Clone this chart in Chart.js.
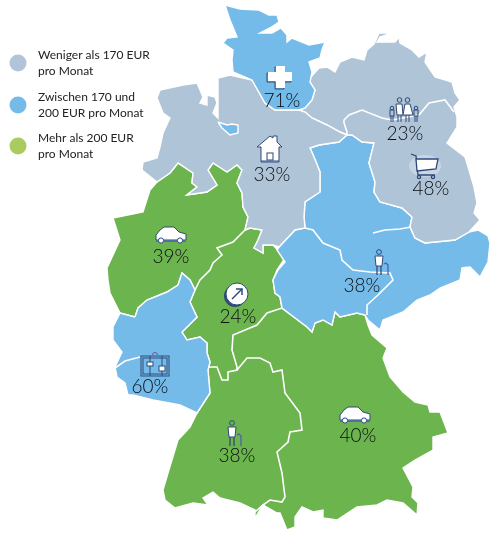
<!DOCTYPE html>
<html lang="de">
<head>
<meta charset="utf-8">
<title>Karte</title>
<style>
  html, body { margin: 0; padding: 0; background: #fff; }
  canvas { display: block; }
</style>
<script src="https://cdn.jsdelivr.net/npm/chart.js@4"></script>
</head>
<body>
<canvas id="karte" width="504" height="541"></canvas>
<script>
// Umrisse der Regionen
const nordBlau = [[225,5],[240,9],[259,10],[269,15],[277,15],[279,22],[270,28],[260,33],[272,33],[281,28],[287,35],[287,42],[292,38],[309,45],[325,42],[322,50],[320,58],[309,62],[312,72],[310,82],[315,90],[312,100],[305,108],[299,110],[285,110],[275,110],[265,103],[252,80],[233,72],[232,60],[233,50],[223,43],[227,38],[237,37],[230,20],[225,5]];
const westGrau = [[157,98],[160,90],[183,85],[197,83],[203,97],[200,103],[207,105],[207,95],[215,97],[217,103],[213,113],[218,118],[218,100],[218,78],[230,75],[252,80],[265,103],[275,110],[285,110],[299,110],[305,112],[312,118],[327,125],[340,132],[347,135],[339,142],[319,145],[310,148],[314,157],[320,172],[320,192],[305,202],[304,217],[305,228],[295,230],[279,247],[273,245],[263,245],[263,253],[254,248],[258,240],[262,230],[250,228],[245,230],[248,217],[243,207],[242,193],[237,183],[242,170],[237,165],[227,172],[213,163],[208,170],[217,185],[207,192],[187,195],[197,187],[192,183],[193,173],[178,163],[170,173],[157,182],[142,170],[143,162],[157,158],[160,147],[163,133],[170,118],[163,113],[157,98]];
const bremenBlau = [[218,122],[227,125],[232,124],[238,125],[238,133],[230,135],[222,128],[218,122]];
const ostGrau = [[310,78],[319,68],[327,67],[335,72],[340,62],[352,57],[364,60],[367,50],[374,44],[379,33],[392,33],[380,37],[377,42],[395,42],[399,37],[400,43],[412,50],[419,57],[427,52],[425,62],[435,77],[452,82],[455,93],[460,100],[454,107],[457,117],[457,127],[447,143],[465,157],[469,170],[474,187],[477,203],[474,213],[480,220],[469,232],[455,240],[425,243],[415,238],[410,227],[412,217],[402,208],[380,202],[374,192],[375,182],[369,163],[374,143],[362,142],[352,135],[347,135],[340,132],[327,125],[312,118],[305,112],[299,110],[305,108],[312,100],[315,90],[310,82],[310,78]];
const mitteBlau = [[347,135],[352,135],[362,142],[374,143],[369,163],[375,182],[374,192],[380,202],[402,208],[412,217],[410,227],[415,238],[425,243],[455,240],[469,232],[478,230],[488,236],[490,243],[488,262],[480,277],[470,267],[462,268],[460,280],[440,288],[430,295],[417,300],[403,312],[383,320],[380,330],[368,320],[365,315],[357,313],[340,317],[335,312],[332,325],[323,320],[315,323],[312,332],[307,327],[282,308],[280,297],[275,293],[273,280],[278,270],[285,262],[277,250],[279,247],[295,230],[305,228],[304,217],[305,202],[320,192],[320,172],[314,157],[310,148],[319,145],[339,142],[347,135]];
const suedGruen = [[157,182],[170,173],[178,163],[193,173],[192,183],[197,187],[187,195],[207,192],[217,185],[208,170],[213,163],[227,172],[237,165],[242,170],[237,183],[242,193],[243,207],[248,217],[245,230],[250,228],[262,230],[258,240],[254,248],[263,253],[263,245],[273,245],[285,258],[277,270],[273,280],[275,293],[280,297],[282,308],[307,327],[312,332],[315,323],[323,320],[332,325],[335,312],[340,317],[357,313],[365,315],[368,325],[372,335],[387,348],[383,358],[390,377],[403,392],[415,402],[428,405],[430,412],[440,412],[448,433],[433,437],[433,450],[415,460],[403,468],[413,487],[412,497],[418,503],[417,515],[403,503],[387,500],[377,505],[357,507],[337,520],[323,518],[323,510],[313,512],[302,507],[295,517],[295,527],[287,530],[280,513],[277,513],[263,505],[255,518],[255,510],[240,503],[220,498],[213,492],[203,498],[208,505],[193,503],[175,508],[165,500],[163,490],[168,473],[178,440],[190,427],[197,413],[210,393],[208,370],[210,362],[207,353],[207,343],[200,337],[187,340],[182,332],[197,317],[190,302],[195,290],[190,280],[182,273],[178,285],[167,292],[147,300],[138,308],[135,317],[120,313],[110,293],[108,280],[107,268],[120,240],[113,218],[143,212],[150,190],[157,182]];
const westBlau = [[135,317],[138,308],[147,300],[167,292],[178,285],[182,273],[190,280],[195,290],[190,302],[197,317],[182,332],[187,340],[200,337],[207,343],[207,353],[210,362],[208,370],[210,393],[197,413],[180,405],[153,400],[133,395],[128,395],[125,383],[117,377],[115,367],[122,352],[113,340],[113,327],[120,313],[135,317]];

// Innere Grenzen (weiss)
const grenzen = [
  [[344,123],[344,120],[349,115],[362,110],[382,118],[392,120],[419,115],[429,103],[445,100],[454,112]],
  [[344,123],[347,132],[347,135]],
  [[305,228],[313,230],[323,243],[340,250],[342,260],[353,270],[370,272],[390,273],[393,280],[378,295],[367,305],[367,315]],
  [[373,233],[385,230],[400,229],[411,227]],
  [[245,230],[233,242],[217,248],[222,255],[213,263],[210,270],[200,280],[195,290]],
  [[282,308],[267,313],[257,325],[233,335],[232,350],[237,367],[237,370],[228,372],[228,380],[222,380],[217,367],[208,367]],
  [[237,370],[247,358],[260,358],[270,363],[273,372],[282,370],[285,393],[300,413],[302,430],[290,432],[288,442],[277,452],[282,473],[285,497],[282,502],[270,500],[263,505],[255,512]],
  [[115,368],[125,361],[140,357]]
];

// Legende
const legendeFarben = ['#b2c4d8', '#74bbea', '#a9cb60'];
const legendeTexte = [['Weniger als 170 EUR', 'pro Monat'], ['Zwischen 170 und', '200 EUR pro Monat'], ['Mehr als 200 EUR', 'pro Monat']];
const legendeY = [63, 105, 146];

// Anteile je Region
const anteile = ['71%', '23%', '48%', '33%', '39%', '24%', '38%', '60%', '38%', '40%'];
const anteilX = [282, 405, 431, 272, 171, 238, 362, 150, 237, 358];
const anteilY = [101, 134, 189, 175, 257, 317, 286, 387, 456, 436];

const grau = '#b0c4d8', blau = '#74bbea', gruen = '#6cb44e', navy = '#2f4a78';
const toPts = arr => arr.map(p => ({ x: p[0], y: p[1] }));

function flaeche(arr, farbe) {
  return { data: toPts(arr), showLine: true, fill: 'shape', tension: 0, backgroundColor: farbe, borderColor: '#fff', borderWidth: 1.4, pointRadius: 0 };
}

const datasets = [];
grenzen.forEach(g => datasets.push({ data: toPts(g), showLine: true, fill: false, borderColor: '#fff', borderWidth: 1.6, pointRadius: 0, tension: 0 }));
legendeFarben.forEach((f, i) => datasets.push({ data: [{ x: 18, y: legendeY[i] }], showLine: false, pointRadius: 8.5, pointBackgroundColor: f, pointBorderWidth: 0 }));
datasets.push(flaeche(bremenBlau, blau));
datasets.push(flaeche(nordBlau, blau));
datasets.push(flaeche(westGrau, grau));
datasets.push(flaeche(ostGrau, grau));
datasets.push(flaeche(mitteBlau, blau));
datasets.push(flaeche(westBlau, blau));
datasets.push(flaeche(suedGruen, gruen));

// Symbole, jeweils um den Ankerpunkt gezeichnet
function pfad(ctx, pts, close) {
  ctx.beginPath();
  pts.forEach((p, i) => i ? ctx.lineTo(p[0], p[1]) : ctx.moveTo(p[0], p[1]));
  if (close) ctx.closePath();
}
function kreis(ctx, x, y, r, fill) {
  ctx.beginPath();
  ctx.arc(x, y, r, 0, Math.PI * 2);
  if (fill) { ctx.fillStyle = fill; ctx.fill(); }
  ctx.stroke();
}
const symbole = {
  kreuz(ctx) {
    const k = [[-4,-11],[5,-11],[5,-5],[12,-5],[12,4],[5,4],[5,11],[-4,11],[-4,4],[-12,4],[-12,-5],[-4,-5]];
    ctx.save(); ctx.translate(-1, 1); pfad(ctx, k, true); ctx.stroke(); ctx.restore();
    pfad(ctx, k, true); ctx.fillStyle = '#fff'; ctx.fill();
  },
  haus(ctx) {
    pfad(ctx, [[0,-13],[3,-11],[3,-13],[7,-13],[7,-7],[12,-2],[9,-2],[9,13],[-9,13],[-9,-2],[-13,-2]], true);
    ctx.fillStyle = '#fff'; ctx.fill(); ctx.stroke();
    ctx.strokeRect(-3, 4, 6, 7);
    pfad(ctx, [[-9,12],[9,12]]); ctx.stroke();
  },
  familie(ctx) {
    ctx.fillStyle = '#fff';
    pfad(ctx, [[-8,-6],[-2,-6],[-1,5],[-7,5]], true); ctx.fill(); ctx.stroke();
    pfad(ctx, [[1,-6],[6,-6],[9,5],[-1,5]], true); ctx.fill(); ctx.stroke();
    kreis(ctx, -4.5, -10, 2.3);
    kreis(ctx, 3.5, -10, 2.3);
    pfad(ctx, [[-6,5],[-6,12]]); ctx.stroke();
    pfad(ctx, [[-3,5],[-3,12]]); ctx.stroke();
    pfad(ctx, [[2,5],[2,12]]); ctx.stroke();
    pfad(ctx, [[5,5],[5,12]]); ctx.stroke();
    [-12, 12].forEach(d => {
      kreis(ctx, d, -2, 1.8);
      ctx.strokeRect(d - 2, 0, 4, 6);
      pfad(ctx, [[d - 1, 6],[d - 1, 12]]); ctx.stroke();
      pfad(ctx, [[d + 1, 6],[d + 1, 12]]); ctx.stroke();
    });
  },
  wagen(ctx) {
    kreis2(ctx);
    ctx.lineWidth = 1.3;
    pfad(ctx, [[-13,-11],[-8,-9],[-6,10],[11,10]]); ctx.stroke();
    pfad(ctx, [[-8,-6],[14,-6],[12,4],[-7,6]], true); ctx.fillStyle = '#fff'; ctx.fill(); ctx.stroke();
    kreis(ctx, -5, 12, 1.6);
    kreis(ctx, 9, 12, 1.6);
  },
  auto(ctx) {
    ctx.fillStyle = '#fff';
    pfad(ctx, [[-15,5],[-15,0],[-11,-5],[-7,-8],[3,-8],[8,-3],[15,-1],[15,5]], true); ctx.fill(); ctx.stroke();
    ctx.strokeStyle = '#4f6ea8'; ctx.lineWidth = 2;
    pfad(ctx, [[-15,6],[15,6]]); ctx.stroke();
    ctx.strokeStyle = navy; ctx.lineWidth = 1;
    kreis(ctx, -10, 5.5, 2.6, '#fff');
    kreis(ctx, 9, 5.5, 2.6, '#fff');
  },
  pfeil(ctx) {
    ctx.fillStyle = navy; ctx.beginPath(); ctx.arc(-2, 2, 11, 0, Math.PI * 2); ctx.fill();
    kreis(ctx, 0, 0, 11, '#fff');
    ctx.lineWidth = 1.5;
    pfad(ctx, [[-5,5],[5,-5]]); ctx.stroke();
    pfad(ctx, [[-1,-5],[5,-5],[5,1]]); ctx.stroke();
  },
  person(ctx) {
    kreis(ctx, 0, -10, 2.4);
    pfad(ctx, [[-4,-6],[4,-6],[3,4],[-3,4]], true); ctx.fillStyle = '#fff'; ctx.fill(); ctx.stroke();
    ctx.lineWidth = 1.3;
    pfad(ctx, [[-2,4],[-2,13]]); ctx.stroke();
    pfad(ctx, [[2,4],[2,13]]); ctx.stroke();
    ctx.strokeStyle = '#4f5fb0';
    pfad(ctx, [[5,2],[7,1],[9,3],[9,13]]); ctx.stroke();
  },
  koffer(ctx) {
    ctx.strokeRect(-14, -10, 28, 20);
    ctx.strokeRect(-12, -8, 24, 16);
    ctx.fillStyle = '#fff';
    pfad(ctx, [[-5,-10],[-5,-4]]); ctx.stroke();
    pfad(ctx, [[-5,0],[-5,10]]); ctx.stroke();
    pfad(ctx, [[7,-10],[7,0]]); ctx.stroke();
    pfad(ctx, [[7,5],[7,10]]); ctx.stroke();
    ctx.fillRect(-8, -4, 6, 4); ctx.strokeRect(-8, -4, 6, 4);
    ctx.fillRect(4, 0, 6, 5); ctx.strokeRect(4, 0, 6, 5);
    ctx.strokeStyle = '#7a4f9a';
    ctx.beginPath(); ctx.arc(0, -11, 2.5, Math.PI, 0); ctx.stroke();
  }
};
function kreis2(ctx) {
  ctx.fillStyle = 'rgba(255,255,255,0.3)';
  ctx.beginPath(); ctx.ellipse(1, 1, 16, 11, 0, 0, Math.PI * 2); ctx.fill();
}
const symbolNamen = ['kreuz', 'familie', 'wagen', 'haus', 'auto', 'pfeil', 'person', 'koffer', 'person', 'auto'];
const symbolX = [280, 404, 424, 270, 171, 237, 379, 155, 232, 355];
const symbolY = [77, 110, 165, 149, 235, 294, 262, 366, 433, 415];

const beschriftung = {
  id: 'beschriftung',
  afterDatasetsDraw(chart) {
    const { ctx, scales } = chart;
    symbolNamen.forEach((name, i) => {
      ctx.save();
      ctx.translate(scales.x.getPixelForValue(symbolX[i]), scales.y.getPixelForValue(symbolY[i]));
      ctx.strokeStyle = navy;
      ctx.lineWidth = 1;
      symbole[name](ctx);
      ctx.restore();
    });

    ctx.save();
    ctx.textAlign = 'center';
    ctx.textBaseline = 'middle';
    ctx.fillStyle = '#0a0d10';
    ctx.font = '300 19px Lato, sans-serif';
    anteile.forEach((t, i) => ctx.fillText(t, scales.x.getPixelForValue(anteilX[i]), scales.y.getPixelForValue(anteilY[i])));

    ctx.textAlign = 'left';
    ctx.fillStyle = '#222';
    ctx.font = '12px Lato, sans-serif';
    legendeTexte.forEach((zeilen, i) => {
      zeilen.forEach((z, j) => ctx.fillText(z, scales.x.getPixelForValue(38), scales.y.getPixelForValue(legendeY[i] - 8 + j * 16)));
    });
    ctx.restore();
  }
};

new Chart(document.getElementById('karte'), {
  type: 'scatter',
  data: { datasets },
  options: {
    responsive: false,
    animation: false,
    layout: { padding: 0, autoPadding: false },
    plugins: { legend: { display: false }, tooltip: { enabled: false }, filler: { propagate: false } },
    scales: {
      x: { type: 'linear', min: 0, max: 504, display: false },
      y: { type: 'linear', min: 0, max: 541, reverse: true, display: false }
    }
  },
  plugins: [beschriftung]
});
</script>
</body>
</html>
